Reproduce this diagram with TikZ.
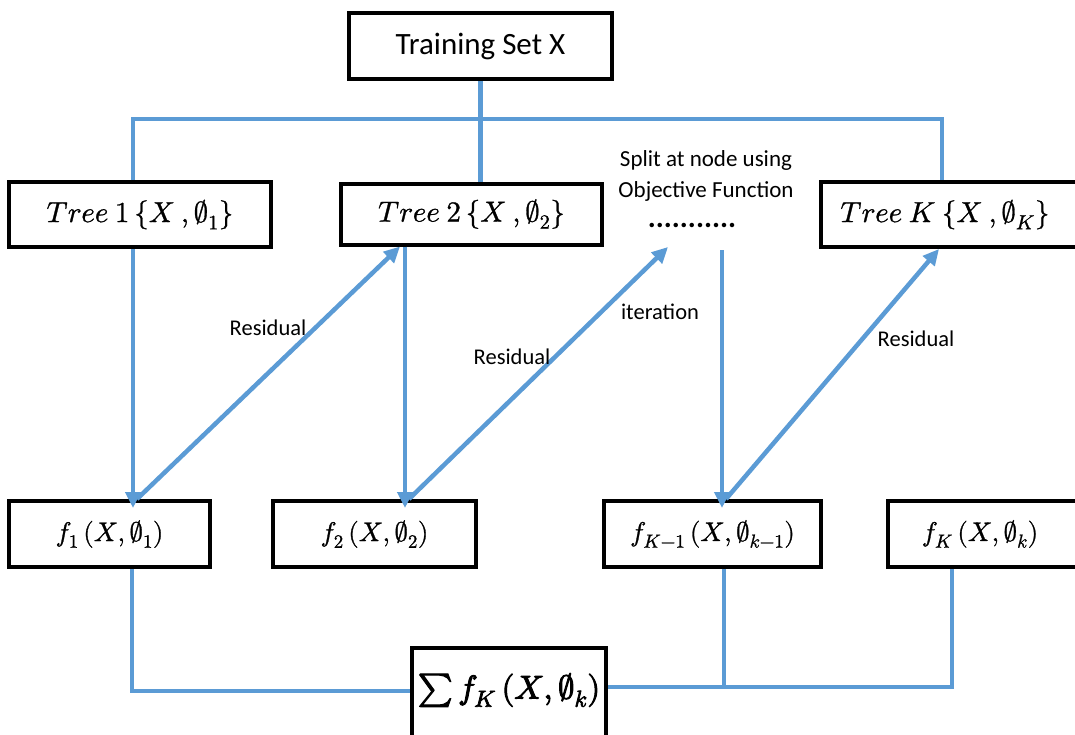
\documentclass[tikz,border=0pt]{standalone}
\usepackage{fontspec}
\usepackage{unicode-math}
\setmainfont{Carlito}
\setmathfont{Latin Modern Math}[FakeBold=1]
\setmathfont{Latin Modern Math}[version=bold,FakeBold=3]
\usetikzlibrary{arrows.meta}
\definecolor{lnblue}{RGB}{91,155,213}
\begin{document}
\begin{tikzpicture}[x=1pt,y=-1pt,
  box/.style={draw=black,line width=4pt,fill=white,inner sep=0pt},
  conn/.style={draw=lnblue,line width=4.5pt},
  thinconn/.style={draw=lnblue,line width=3.5pt},
  arr/.style={conn,-{Triangle[length=16pt,width=15pt]}},
  down/.style={shorten >=-9pt},
  lab/.style={font=\fontsize{22.5}{27}\selectfont,inner sep=0pt},
  mth/.style={font=\fontsize{29}{34}\selectfont},
  fm/.style={font=\fontsize{27}{32}\selectfont},
  sumfont/.style={font=\fontsize{33}{36}\selectfont\mathversion{bold}}]
\useasboundingbox (0,0) rectangle (1075,734);
% boxes
\node[box,minimum width=263pt,minimum height=66pt,font=\fontsize{31}{36}\selectfont] (train) at (480.5,46) {Training Set X};
\node[box,mth,minimum width=262pt,minimum height=65pt] (tree1) at (140,214.5) {$Tree\ 1\,\{X\ ,\emptyset_1\}$};
\node[box,mth,minimum width=261pt,minimum height=61pt] (tree2) at (471.5,214) {$Tree\ 2\,\{X\ ,\emptyset_2\}$};
\node[box,mth,minimum width=270pt,minimum height=65pt] (treeK) at (956,214.5) {$Tree\ K\ \{X\ ,\emptyset_K\}$\hspace*{22pt}};
\node[font=\fontsize{23}{31}\selectfont,align=center,inner sep=0pt] (split) at (706,176) {Split at node using\\Objective Function};
\node[font=\bfseries\fontsize{30}{30}\selectfont,inner sep=0pt] (dots) at (692,225) {...........};
\node[box,fm,minimum width=201pt,minimum height=66pt] (f1) at (109.5,534) {$f_1\,(X,\emptyset_1)$};
\node[box,fm,minimum width=203pt,minimum height=66pt] (f2) at (374.5,534) {$f_2\,(X,\emptyset_2)$};
\node[box,fm,minimum width=217pt,minimum height=66pt] (fk1) at (712.5,534) {$f_{K-1}\,(X,\emptyset_{k-1})$};
\node[box,fm,minimum width=202pt,minimum height=66pt] (fK) at (989,534) {$f_K\,(X,\emptyset_k)$\hspace*{18pt}};
\node[box,minimum width=194pt,minimum height=110pt] (sum) at (509,703) {};
\node[sumfont,inner sep=0pt] (sumtxt) at (509,690) {$\sum f_K\,(X,\emptyset_k)$};
% helper coordinates
\coordinate (xL) at (133,119);
\coordinate (xR) at (942,119);
\coordinate (d1s) at (137,0);
\coordinate (d1e) at (400,0);
\coordinate (v2) at (405,0);
\coordinate (d2s) at (409,0);
\coordinate (it) at (668,247);
\coordinate (vs) at (722,250);
\coordinate (d3s) at (726,0);
\coordinate (d3e) at (939,0);
\coordinate (bl) at (132,691);
\coordinate (br) at (952,687);
\coordinate (bm) at (724,687);
% top connectors
\draw[conn] (train.south) -- (train.south |- tree2.north);
\draw[conn] (tree1.north -| xL) -- (xL) -- (xR) -- (treeK.north -| xR);
% vertical arrows
\draw[arr,down] (tree1.south -| xL) -- (f1.north -| xL);
\draw[arr,down] (tree2.south -| v2) -- (f2.north -| v2);
\draw[arr,down] (vs) -- (fk1.north -| vs);
% residual arrows
\draw[arr] (f1.north -| d1s) -- (tree2.south -| d1e);
\draw[arr] (f2.north -| d2s) -- (it);
\draw[arr] (fk1.north -| d3s) -- (treeK.south -| d3e);
% bottom connectors
\draw[thinconn] (f1.south -| bl) -- (bl) -- (sum.west |- bl);
\draw[thinconn] (sum.east |- br) -- (br) -- (fK.south -| br);
\draw[thinconn] (fk1.south -| bm) -- (bm);
% labels
\node[lab] (res1) at (268,328) {Residual};
\node[lab] (res2) at (512,357) {Residual};
\node[lab] (iter) at (660,312) {iteration};
\node[lab] (res3) at (916,339) {Residual};
\end{tikzpicture}
\end{document}
